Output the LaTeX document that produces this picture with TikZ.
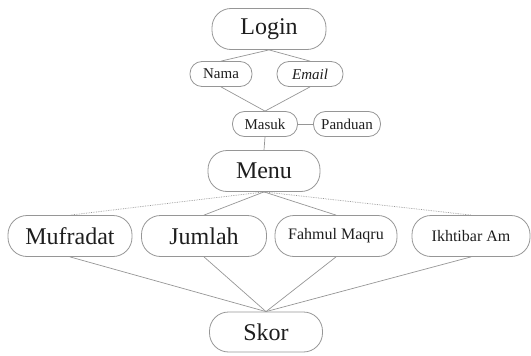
\documentclass[tikz,border=0pt]{standalone}
\usepackage{fontspec}
\setmainfont{Liberation Serif}
\usepackage{tikz}
\usetikzlibrary{positioning}
\definecolor{linegray}{RGB}{150,150,150}
\definecolor{txtgray}{RGB}{30,30,30}
\tikzset{
    % Large menu boxes
    bigbox/.style={rectangle, rounded corners=19pt, draw=linegray, line width=0.8pt,
                minimum height=41pt, inner sep=2pt, align=center, text=txtgray,
                font=\fontsize{24}{26}\selectfont},
    % Small input boxes
    smallbox/.style={rectangle, rounded corners=12pt, draw=linegray, line width=0.8pt,
                minimum height=25pt, inner sep=2pt, align=center, text=txtgray,
                font=\fontsize{15}{17}\selectfont},
    link/.style={draw=linegray, line width=0.7pt},
    dotlink/.style={link, densely dotted},
}
\begin{document}
\begin{tikzpicture}[x=1pt, y=-1pt]
\useasboundingbox (0,0) rectangle (531,356);

% Login part
\node[bigbox, minimum width=114pt] (login) at (269,29) {Login};
\node[smallbox, minimum width=62pt] (nama) at (221,74) {Nama};
\node[smallbox, minimum width=66pt] (email) at (310,74) {\textit{Email}};
\node[smallbox, minimum width=65pt] (masuk) at (265,124) {Masuk};
\node[smallbox, minimum width=67pt] (panduan) at (347,124) {Panduan};

% Menu
\node[bigbox, minimum width=112pt] (menu) at (264,171) {Menu};

% Sub menus
\node[bigbox, minimum width=124pt] (mufradat) at (70,236) {Mufradat};
\node[bigbox, minimum width=125pt] (jumlah) at (204,236) {Jumlah};
\node[bigbox, minimum width=122pt, font=\fontsize{16}{18}\selectfont] (fahmul) at (336,236) {Fahmul Maqru};
\node[bigbox, minimum width=118pt, font=\fontsize{16}{18}\selectfont] (ikhtibar) at (471,236) {Ikhtibar Am};

% Score
\node[bigbox, minimum width=113pt, minimum height=40pt] (skor) at (266,332) {Skor};

% Links
\draw[link] (login.south) -- (nama.north);
\draw[link] (login.south) -- (email.north);
\draw[link] (nama.south) -- (masuk.north);
\draw[link] (email.south) -- (masuk.north);
\draw[link] (masuk.east) -- (panduan.west);
\draw[link] (masuk.south) -- (menu.north);

\draw[dotlink] (menu.south) -- (mufradat.north);
\draw[link] (menu.south) -- (jumlah.north);
\draw[link] (menu.south) -- (fahmul.north);
\draw[dotlink] (menu.south) -- (ikhtibar.north);

\foreach \n in {mufradat, jumlah, fahmul, ikhtibar}
    \draw[link] (\n.south) -- (skor.north);

\end{tikzpicture}
\end{document}
